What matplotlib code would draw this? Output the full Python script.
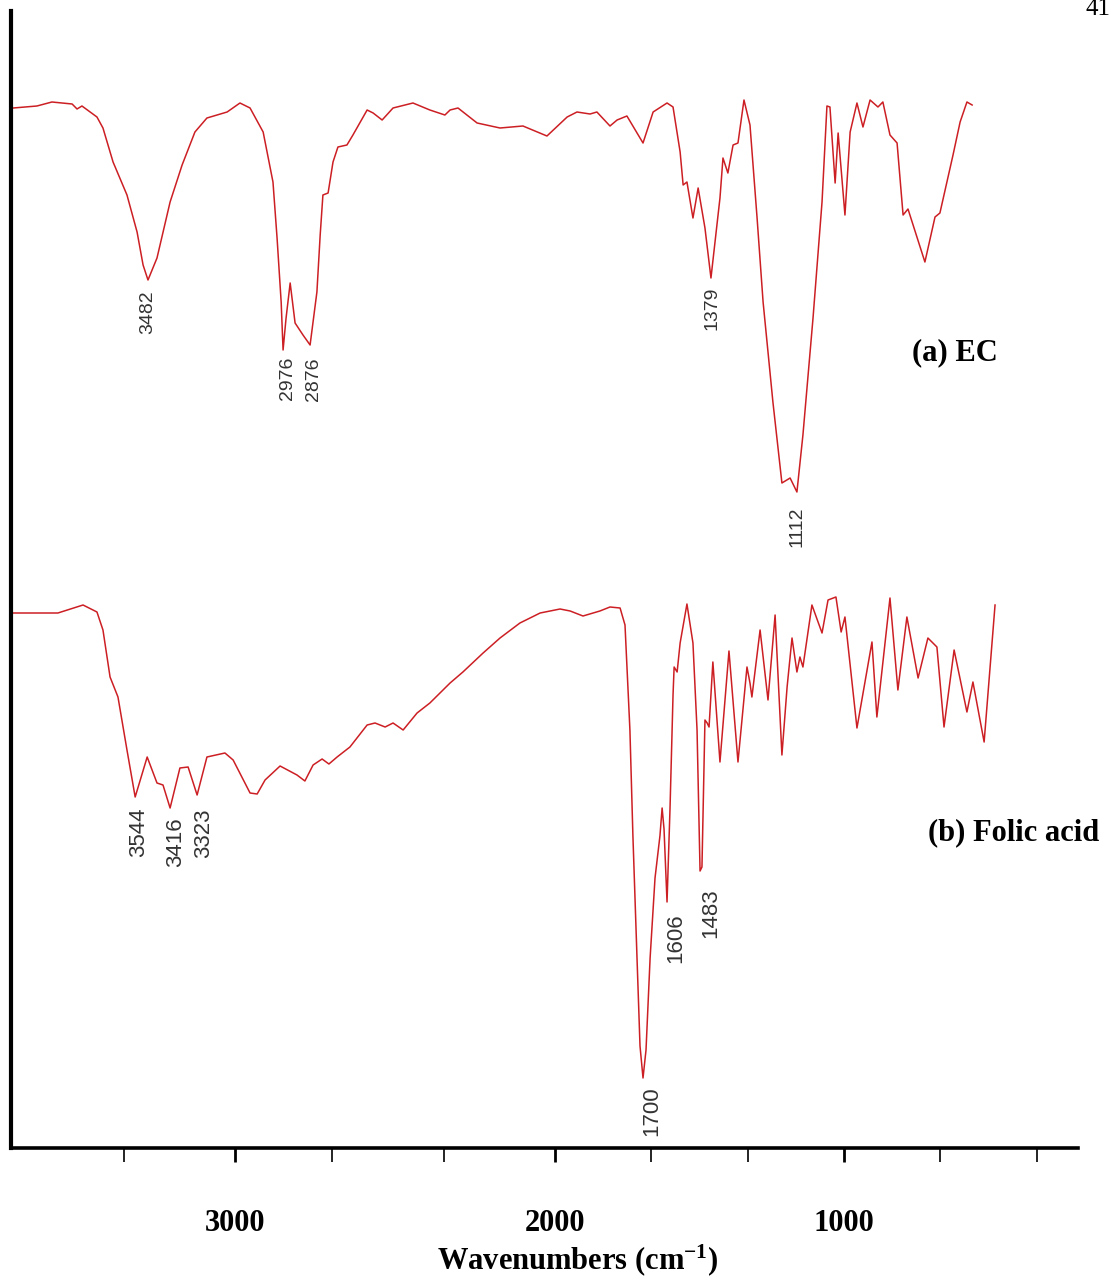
import matplotlib.pyplot as plt

# FTIR spectra (wavenumber in cm-1, offset transmittance a.u.)
ec_wn = [3983, 3896, 3841, 3767, 3749, 3731, 3676, 3654, 3617, 3566, 3529, 3507, 3489,
         3456, 3408, 3364, 3317, 3273, 3199, 3152, 3115, 3067, 3031, 3016, 3001, 2994,
         2983, 2968, 2950, 2921, 2895, 2870, 2858, 2848, 2829, 2811, 2793, 2760, 2738,
         2686, 2664, 2631, 2591, 2518, 2456, 2401, 2382, 2353, 2283, 2199, 2115, 2027,
         1953, 1917, 1869, 1844, 1796, 1770, 1734, 1675, 1638, 1587, 1565, 1539, 1528,
         1514, 1492, 1473, 1448, 1426, 1393, 1382, 1364, 1345, 1327, 1305, 1283, 1257,
         1235, 1199, 1166, 1136, 1111, 1089, 1052, 1019, 1001, 990, 971, 960, 935, 916,
         891, 869, 843, 814, 796, 770, 744, 722, 704, 642, 605, 587, 539, 513, 488, 469]
ec_t = [104.0, 104.2, 104.6, 104.4, 103.9, 104.2, 103.1, 102.0, 98.6, 95.3, 91.6, 88.3, 86.8,
        89.0, 94.6, 98.3, 101.6, 103.0, 103.6, 104.5, 104.0, 101.6, 96.6, 91.0, 84.6, 79.8,
        83.0, 86.5, 82.5, 81.3, 80.3, 85.6, 91.3, 95.3, 95.5, 98.6, 100.1, 100.3, 101.3,
        103.8, 103.5, 102.8, 104.0, 104.5, 103.8, 103.3, 103.8, 104.0, 102.5, 102.0, 102.2, 101.2,
        103.1, 103.6, 103.4, 103.6, 102.2, 102.8, 103.2, 100.5, 103.6, 104.5, 104.1, 99.6, 96.3,
        96.6, 93.0, 96.0, 92.0, 87.0, 95.0, 99.0, 97.5, 100.3, 100.5, 104.8, 102.3, 93.0,
        84.6, 74.6, 66.5, 67.0, 65.6, 71.3, 83.0, 94.6, 104.2, 104.1, 96.5, 101.5, 93.3, 101.6,
        104.5, 102.1, 104.8, 104.1, 104.6, 101.3, 100.5, 93.3, 93.9, 88.6, 93.1, 93.5, 99.3, 102.6, 104.6, 104.3]

fa_wn = [3983, 3896, 3819, 3727, 3676, 3654, 3628, 3599, 3566, 3536, 3492, 3456, 3434,
         3408, 3372, 3342, 3309, 3273, 3207, 3177, 3115, 3089, 3060, 3005, 2943, 2914,
         2884, 2851, 2826, 2796, 2749, 2686, 2657, 2620, 2591, 2554, 2503, 2456, 2382,
         2335, 2261, 2199, 2126, 2052, 1979, 1942, 1895, 1833, 1796, 1759, 1741, 1723,
         1712, 1697, 1686, 1675, 1664, 1649, 1631, 1613, 1605, 1598, 1587, 1576, 1565,
         1561, 1550, 1539, 1514, 1492, 1477, 1466, 1459, 1448, 1440, 1433, 1419, 1393,
         1360, 1327, 1294, 1283, 1276, 1246, 1217, 1191, 1166, 1147, 1129, 1111, 1100,
         1089, 1056, 1019, 997, 968, 949, 935, 891, 836, 818, 770, 741, 708, 667, 631,
         598, 572, 535, 488, 466, 425, 385]
fa_t = [53.5, 53.5, 53.5, 54.3, 53.6, 51.8, 47.1, 45.1, 39.8, 35.1, 39.1, 36.5, 36.3,
        34.0, 38.0, 38.1, 35.3, 39.1, 39.5, 38.8, 35.5, 35.4, 36.8, 38.2, 37.3, 36.7,
        38.3, 38.9, 38.4, 39.1, 40.1, 42.3, 42.5, 42.1, 42.5, 41.8, 43.5, 44.5, 46.5,
        47.6, 49.5, 51.0, 52.5, 53.5, 53.9, 53.7, 53.2, 53.7, 54.1, 54.0, 52.3, 41.8,
        31.2, 19.0, 10.2, 7.0, 9.8, 19.0, 27.0, 31.2, 34.0, 31.9, 24.6, 34.0, 45.3,
        48.1, 47.6, 50.5, 54.4, 50.5, 41.8, 27.7, 28.1, 42.8, 42.5, 42.1, 48.6, 38.6,
        49.7, 38.6, 48.1, 46.5, 45.1, 51.8, 44.8, 53.3, 39.3, 46.1, 51.0, 47.6, 49.1,
        48.1, 54.3, 51.5, 54.8, 55.1, 51.6, 53.1, 42.0, 50.6, 43.1, 55.0, 45.8, 53.1, 47.0, 51.0,
        50.1, 42.1, 49.8, 43.6, 46.6, 40.6, 54.3]

# peak labels: text, position (cm-1), top of label (a.u.)
ec_peaks = [('3482', 3489, 85.8), ('2976', 2976, 79.1), ('2876', 2881, 79.1),
            ('1379', 1422, 86.1), ('1112', 1111, 64.2)]
fa_peaks = [('3544', 3525, 34.1), ('3416', 3386, 33.1), ('3323', 3287, 34.0),
            ('1700', 1642, 6.2), ('1606', 1554, 23.5), ('1483', 1426, 26.0)]

tick_pos = [3577, 3170, 2815, 2404, 1997, 1646, 1290, 938, 587, 231]
major_pos = [3170, 1997, 938]
major_lab = ['3000', '2000', '1000']

red = '#cc1f24'
serif = ['Liberation Serif', 'DejaVu Serif']

plt.rcParams['mathtext.fontset'] = 'custom'
plt.rcParams['mathtext.rm'] = 'Liberation Serif:bold'
plt.rcParams['mathtext.it'] = 'Liberation Serif:bold'
plt.rcParams['mathtext.bf'] = 'Liberation Serif:bold'

fig = plt.figure(figsize=(11.11, 12.79), dpi=100)
ax = fig.add_axes([11 / 1111, 1 - 1148 / 1279, 1067 / 1111, 1137 / 1279])

ax.plot(ec_wn, ec_t, color=red, lw=1.1)
ax.plot(fa_wn, fa_t, color=red, lw=1.1)

for txt, w, v in ec_peaks:
    ax.text(w, v, txt, rotation=90, ha='center', va='top', fontsize=14,
            family='Liberation Sans', color='#333333')
for txt, w, v in fa_peaks:
    ax.text(w, v, txt, rotation=90, ha='center', va='top', fontsize=16,
            family='Liberation Sans', color='#333333')

ax.set_xlim(3991, 81)
ax.set_ylim(0, 113.7)

ax.set_xticks(major_pos)
ax.set_xticklabels(major_lab, fontsize=22, fontweight='bold', family=serif)
ax.set_xticks([p for p in tick_pos if p not in major_pos], minor=True)
ax.tick_params(axis='x', which='major', direction='out', length=10, width=2.0, pad=34)
ax.tick_params(axis='x', which='minor', direction='out', length=10, width=1.2)
ax.set_yticks([])

ax.spines['top'].set_visible(False)
ax.spines['right'].set_visible(False)
ax.spines['left'].set_linewidth(3.0)
ax.spines['bottom'].set_linewidth(2.6)

fig.text(578 / 1111, 1 - 1260 / 1279, 'Wavenumbers (cm$^{\\mathbf{-1}}$)', ha='center', va='center',
         fontsize=22, fontweight='bold', family=serif)

fig.text(912 / 1111, 1 - 353 / 1279, '(a) EC', ha='left', va='center',
         fontsize=22, fontweight='bold', family=serif)
fig.text(928 / 1111, 1 - 833 / 1279, '(b) Folic acid', ha='left', va='center',
         fontsize=22, fontweight='bold', family=serif)

fig.text(1086 / 1111, 1 - 9 / 1279, '41', ha='left', va='center', fontsize=18, family=serif)

fig.savefig('out.png', dpi=100)
